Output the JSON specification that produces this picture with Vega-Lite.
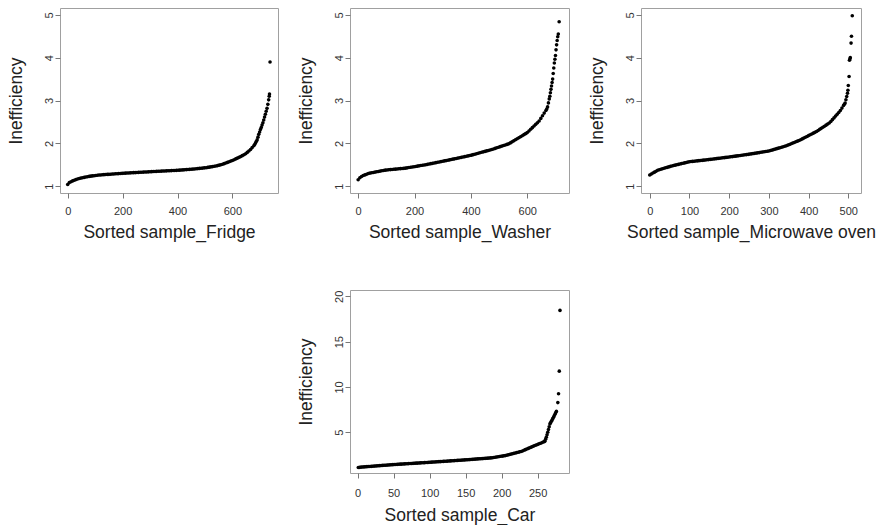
{
 "$schema": "https://vega.github.io/schema/vega-lite/v6.json",
 "background": "white",
 "padding": {"left": 6, "top": 7, "right": 0, "bottom": 0},
 "config": {
  "view": {"stroke": "#a0a0a0", "strokeWidth": 1},
  "font": "Liberation Sans",
  "axis": {"grid": false, "domain": false, "tickColor": "#777777", "tickSize": 5, "labelFont": "Liberation Sans", "labelFontSize": 11, "labelColor": "#333333", "labelOverlap": false, "labelFlush": false, "titleFont": "Liberation Sans", "titleFontSize": 17.5, "titleFontWeight": "normal", "titleColor": "#222222"},
  "axisX": {"labelPadding": 7.5, "titleBaseline": "alphabetic", "titleY": 44.5, "titleAlign": "center"},
  "axisY": {"labelAngle": -90, "labelAlign": "center", "labelBaseline": "alphabetic", "labelPadding": 2.5, "titleBaseline": "alphabetic", "titleX": -39, "titleAlign": "center"},
  "circle": {"size": 13, "color": "black", "opacity": 1}
 },
 "datasets": {
  "fr": [{"x":0,"y":1.04},{"x":6,"y":1.083},{"x":12,"y":1.103},{"x":18,"y":1.123},{"x":24,"y":1.139},{"x":30,"y":1.153},{"x":36,"y":1.166},{"x":42,"y":1.18},{"x":48,"y":1.188},{"x":54,"y":1.196},{"x":60,"y":1.204},{"x":66,"y":1.212},{"x":72,"y":1.219},{"x":78,"y":1.227},{"x":84,"y":1.233},{"x":90,"y":1.239},{"x":96,"y":1.244},{"x":102,"y":1.249},{"x":108,"y":1.254},{"x":114,"y":1.259},{"x":120,"y":1.262},{"x":126,"y":1.265},{"x":132,"y":1.268},{"x":138,"y":1.271},{"x":144,"y":1.274},{"x":150,"y":1.276},{"x":156,"y":1.279},{"x":162,"y":1.282},{"x":168,"y":1.285},{"x":174,"y":1.288},{"x":180,"y":1.291},{"x":186,"y":1.293},{"x":192,"y":1.296},{"x":198,"y":1.299},{"x":204,"y":1.301},{"x":210,"y":1.304},{"x":216,"y":1.306},{"x":222,"y":1.308},{"x":228,"y":1.31},{"x":234,"y":1.312},{"x":240,"y":1.315},{"x":246,"y":1.317},{"x":252,"y":1.319},{"x":258,"y":1.321},{"x":264,"y":1.323},{"x":270,"y":1.326},{"x":276,"y":1.328},{"x":282,"y":1.33},{"x":288,"y":1.332},{"x":294,"y":1.334},{"x":300,"y":1.337},{"x":306,"y":1.339},{"x":312,"y":1.341},{"x":318,"y":1.343},{"x":324,"y":1.345},{"x":330,"y":1.347},{"x":336,"y":1.349},{"x":342,"y":1.351},{"x":348,"y":1.353},{"x":354,"y":1.355},{"x":360,"y":1.357},{"x":366,"y":1.359},{"x":372,"y":1.361},{"x":378,"y":1.363},{"x":384,"y":1.365},{"x":390,"y":1.367},{"x":396,"y":1.369},{"x":402,"y":1.371},{"x":408,"y":1.374},{"x":414,"y":1.377},{"x":420,"y":1.38},{"x":426,"y":1.383},{"x":432,"y":1.386},{"x":438,"y":1.389},{"x":444,"y":1.392},{"x":450,"y":1.395},{"x":456,"y":1.398},{"x":462,"y":1.401},{"x":468,"y":1.406},{"x":474,"y":1.41},{"x":480,"y":1.414},{"x":486,"y":1.418},{"x":492,"y":1.422},{"x":498,"y":1.427},{"x":504,"y":1.431},{"x":510,"y":1.438},{"x":516,"y":1.444},{"x":522,"y":1.451},{"x":528,"y":1.457},{"x":534,"y":1.464},{"x":540,"y":1.47},{"x":546,"y":1.48},{"x":552,"y":1.49},{"x":558,"y":1.5},{"x":564,"y":1.51},{"x":570,"y":1.525},{"x":576,"y":1.54},{"x":582,"y":1.555},{"x":588,"y":1.57},{"x":594,"y":1.585},{"x":600,"y":1.6},{"x":606,"y":1.618},{"x":612,"y":1.636},{"x":618,"y":1.654},{"x":624,"y":1.672},{"x":630,"y":1.69},{"x":636,"y":1.712},{"x":642,"y":1.734},{"x":648,"y":1.756},{"x":654,"y":1.788},{"x":660,"y":1.82},{"x":666,"y":1.857},{"x":672,"y":1.9},{"x":678,"y":1.943},{"x":681,"y":1.974},{"x":684,"y":2.009},{"x":687,"y":2.044},{"x":690,"y":2.08},{"x":693,"y":2.144},{"x":696,"y":2.21},{"x":699,"y":2.265},{"x":702,"y":2.32},{"x":705,"y":2.37},{"x":708,"y":2.426},{"x":711,"y":2.481},{"x":714,"y":2.545},{"x":717,"y":2.613},{"x":720,"y":2.68},{"x":723,"y":2.749},{"x":726,"y":2.817},{"x":729,"y":2.91},{"x":732,"y":3.015},{"x":734,"y":3.1},{"x":735,"y":3.15},{"x":737,"y":3.9}],
  "wa": [{"x":0,"y":1.15},{"x":6,"y":1.195},{"x":12,"y":1.225},{"x":18,"y":1.248},{"x":24,"y":1.263},{"x":30,"y":1.279},{"x":36,"y":1.295},{"x":42,"y":1.305},{"x":48,"y":1.313},{"x":54,"y":1.32},{"x":60,"y":1.328},{"x":66,"y":1.336},{"x":72,"y":1.343},{"x":78,"y":1.351},{"x":84,"y":1.359},{"x":90,"y":1.366},{"x":96,"y":1.374},{"x":102,"y":1.378},{"x":108,"y":1.382},{"x":114,"y":1.386},{"x":120,"y":1.39},{"x":126,"y":1.393},{"x":132,"y":1.397},{"x":138,"y":1.401},{"x":144,"y":1.405},{"x":150,"y":1.409},{"x":156,"y":1.412},{"x":162,"y":1.416},{"x":168,"y":1.42},{"x":174,"y":1.427},{"x":180,"y":1.434},{"x":186,"y":1.44},{"x":192,"y":1.447},{"x":198,"y":1.454},{"x":204,"y":1.46},{"x":210,"y":1.467},{"x":216,"y":1.474},{"x":222,"y":1.481},{"x":228,"y":1.488},{"x":234,"y":1.494},{"x":240,"y":1.501},{"x":246,"y":1.509},{"x":252,"y":1.517},{"x":258,"y":1.525},{"x":264,"y":1.533},{"x":270,"y":1.541},{"x":276,"y":1.549},{"x":282,"y":1.557},{"x":288,"y":1.565},{"x":294,"y":1.573},{"x":300,"y":1.581},{"x":306,"y":1.589},{"x":312,"y":1.597},{"x":318,"y":1.605},{"x":324,"y":1.613},{"x":330,"y":1.621},{"x":336,"y":1.63},{"x":342,"y":1.638},{"x":348,"y":1.647},{"x":354,"y":1.655},{"x":360,"y":1.664},{"x":366,"y":1.672},{"x":372,"y":1.681},{"x":378,"y":1.689},{"x":384,"y":1.697},{"x":390,"y":1.706},{"x":396,"y":1.714},{"x":402,"y":1.724},{"x":408,"y":1.735},{"x":414,"y":1.746},{"x":420,"y":1.757},{"x":426,"y":1.768},{"x":432,"y":1.779},{"x":438,"y":1.79},{"x":444,"y":1.801},{"x":450,"y":1.812},{"x":456,"y":1.823},{"x":462,"y":1.834},{"x":468,"y":1.845},{"x":474,"y":1.856},{"x":480,"y":1.869},{"x":486,"y":1.882},{"x":492,"y":1.895},{"x":498,"y":1.909},{"x":504,"y":1.922},{"x":510,"y":1.935},{"x":516,"y":1.948},{"x":522,"y":1.961},{"x":528,"y":1.975},{"x":534,"y":1.988},{"x":540,"y":2.01},{"x":546,"y":2.034},{"x":552,"y":2.058},{"x":558,"y":2.082},{"x":564,"y":2.106},{"x":570,"y":2.13},{"x":576,"y":2.154},{"x":582,"y":2.178},{"x":588,"y":2.202},{"x":594,"y":2.226},{"x":600,"y":2.25},{"x":606,"y":2.289},{"x":612,"y":2.327},{"x":618,"y":2.366},{"x":624,"y":2.404},{"x":630,"y":2.443},{"x":636,"y":2.481},{"x":642,"y":2.52},{"x":648,"y":2.582},{"x":654,"y":2.644},{"x":660,"y":2.706},{"x":666,"y":2.768},{"x":669,"y":2.799},{"x":672,"y":2.851},{"x":675,"y":2.944},{"x":678,"y":3.037},{"x":680,"y":3.1},{"x":682,"y":3.18},{"x":684,"y":3.26},{"x":686,"y":3.34},{"x":688,"y":3.42},{"x":690,"y":3.5},{"x":692,"y":3.63},{"x":694,"y":3.76},{"x":696,"y":3.874},{"x":698,"y":3.962},{"x":700,"y":4.05},{"x":702,"y":4.183},{"x":704,"y":4.3},{"x":706,"y":4.4},{"x":708,"y":4.487},{"x":710,"y":4.55},{"x":713,"y":4.84}],
  "mi": [{"x":0,"y":1.26},{"x":4,"y":1.284},{"x":8,"y":1.306},{"x":12,"y":1.327},{"x":16,"y":1.348},{"x":20,"y":1.37},{"x":24,"y":1.383},{"x":28,"y":1.395},{"x":32,"y":1.406},{"x":36,"y":1.417},{"x":40,"y":1.428},{"x":44,"y":1.439},{"x":48,"y":1.45},{"x":52,"y":1.462},{"x":56,"y":1.472},{"x":60,"y":1.481},{"x":64,"y":1.49},{"x":68,"y":1.499},{"x":72,"y":1.508},{"x":76,"y":1.517},{"x":80,"y":1.526},{"x":84,"y":1.534},{"x":88,"y":1.543},{"x":92,"y":1.552},{"x":96,"y":1.561},{"x":100,"y":1.57},{"x":104,"y":1.574},{"x":108,"y":1.578},{"x":112,"y":1.582},{"x":116,"y":1.587},{"x":120,"y":1.591},{"x":124,"y":1.595},{"x":128,"y":1.599},{"x":132,"y":1.603},{"x":136,"y":1.607},{"x":140,"y":1.612},{"x":144,"y":1.616},{"x":148,"y":1.62},{"x":152,"y":1.625},{"x":156,"y":1.629},{"x":160,"y":1.634},{"x":164,"y":1.638},{"x":168,"y":1.643},{"x":172,"y":1.648},{"x":176,"y":1.652},{"x":180,"y":1.657},{"x":184,"y":1.662},{"x":188,"y":1.666},{"x":192,"y":1.671},{"x":196,"y":1.675},{"x":200,"y":1.68},{"x":204,"y":1.685},{"x":208,"y":1.69},{"x":212,"y":1.696},{"x":216,"y":1.701},{"x":220,"y":1.706},{"x":224,"y":1.711},{"x":228,"y":1.716},{"x":232,"y":1.722},{"x":236,"y":1.727},{"x":240,"y":1.732},{"x":244,"y":1.737},{"x":248,"y":1.742},{"x":252,"y":1.748},{"x":256,"y":1.754},{"x":260,"y":1.76},{"x":264,"y":1.766},{"x":268,"y":1.772},{"x":272,"y":1.778},{"x":276,"y":1.784},{"x":280,"y":1.79},{"x":284,"y":1.796},{"x":288,"y":1.802},{"x":292,"y":1.808},{"x":296,"y":1.814},{"x":300,"y":1.82},{"x":304,"y":1.831},{"x":308,"y":1.842},{"x":312,"y":1.853},{"x":316,"y":1.865},{"x":320,"y":1.876},{"x":324,"y":1.887},{"x":328,"y":1.898},{"x":332,"y":1.909},{"x":336,"y":1.92},{"x":340,"y":1.932},{"x":344,"y":1.944},{"x":348,"y":1.959},{"x":352,"y":1.974},{"x":356,"y":1.99},{"x":360,"y":2.005},{"x":364,"y":2.02},{"x":368,"y":2.036},{"x":372,"y":2.051},{"x":376,"y":2.066},{"x":380,"y":2.084},{"x":384,"y":2.103},{"x":388,"y":2.122},{"x":392,"y":2.141},{"x":396,"y":2.16},{"x":400,"y":2.18},{"x":404,"y":2.199},{"x":408,"y":2.218},{"x":412,"y":2.237},{"x":416,"y":2.256},{"x":420,"y":2.276},{"x":424,"y":2.301},{"x":428,"y":2.326},{"x":432,"y":2.35},{"x":436,"y":2.375},{"x":440,"y":2.4},{"x":444,"y":2.424},{"x":448,"y":2.449},{"x":452,"y":2.474},{"x":456,"y":2.511},{"x":460,"y":2.553},{"x":464,"y":2.594},{"x":468,"y":2.636},{"x":472,"y":2.677},{"x":476,"y":2.719},{"x":480,"y":2.765},{"x":484,"y":2.823},{"x":488,"y":2.882},{"x":490,"y":2.911},{"x":492,"y":2.94},{"x":494,"y":3.017},{"x":496,"y":3.093},{"x":498,"y":3.17},{"x":499,"y":3.24},{"x":500,"y":3.35},{"x":502,"y":3.56},{"x":503,"y":3.94},{"x":504,"y":3.97},{"x":505,"y":4.0},{"x":507,"y":4.34},{"x":508,"y":4.5},{"x":510,"y":4.98}],
  "ca": [{"x":1,"y":1.1},{"x":3,"y":1.125},{"x":5,"y":1.15},{"x":7,"y":1.162},{"x":9,"y":1.175},{"x":11,"y":1.187},{"x":13,"y":1.2},{"x":15,"y":1.212},{"x":17,"y":1.225},{"x":19,"y":1.237},{"x":21,"y":1.25},{"x":23,"y":1.262},{"x":25,"y":1.274},{"x":27,"y":1.287},{"x":29,"y":1.299},{"x":31,"y":1.312},{"x":33,"y":1.324},{"x":35,"y":1.337},{"x":37,"y":1.349},{"x":39,"y":1.362},{"x":41,"y":1.374},{"x":43,"y":1.386},{"x":45,"y":1.399},{"x":47,"y":1.411},{"x":49,"y":1.424},{"x":51,"y":1.435},{"x":53,"y":1.445},{"x":55,"y":1.455},{"x":57,"y":1.465},{"x":59,"y":1.475},{"x":61,"y":1.485},{"x":63,"y":1.495},{"x":65,"y":1.505},{"x":67,"y":1.515},{"x":69,"y":1.525},{"x":71,"y":1.535},{"x":73,"y":1.545},{"x":75,"y":1.555},{"x":77,"y":1.565},{"x":79,"y":1.575},{"x":81,"y":1.585},{"x":83,"y":1.595},{"x":85,"y":1.605},{"x":87,"y":1.615},{"x":89,"y":1.625},{"x":91,"y":1.635},{"x":93,"y":1.645},{"x":95,"y":1.655},{"x":97,"y":1.665},{"x":99,"y":1.675},{"x":101,"y":1.685},{"x":103,"y":1.696},{"x":105,"y":1.707},{"x":107,"y":1.718},{"x":109,"y":1.729},{"x":111,"y":1.739},{"x":113,"y":1.75},{"x":115,"y":1.761},{"x":117,"y":1.772},{"x":119,"y":1.783},{"x":121,"y":1.793},{"x":123,"y":1.804},{"x":125,"y":1.815},{"x":127,"y":1.826},{"x":129,"y":1.837},{"x":131,"y":1.847},{"x":133,"y":1.858},{"x":135,"y":1.869},{"x":137,"y":1.88},{"x":139,"y":1.891},{"x":141,"y":1.901},{"x":143,"y":1.912},{"x":145,"y":1.923},{"x":147,"y":1.934},{"x":149,"y":1.945},{"x":151,"y":1.956},{"x":153,"y":1.968},{"x":155,"y":1.981},{"x":157,"y":1.993},{"x":159,"y":2.005},{"x":161,"y":2.017},{"x":163,"y":2.029},{"x":165,"y":2.042},{"x":167,"y":2.054},{"x":169,"y":2.066},{"x":171,"y":2.078},{"x":173,"y":2.09},{"x":175,"y":2.102},{"x":177,"y":2.115},{"x":179,"y":2.127},{"x":181,"y":2.139},{"x":183,"y":2.152},{"x":185,"y":2.164},{"x":187,"y":2.183},{"x":189,"y":2.209},{"x":191,"y":2.235},{"x":193,"y":2.262},{"x":195,"y":2.288},{"x":197,"y":2.315},{"x":199,"y":2.341},{"x":201,"y":2.367},{"x":203,"y":2.394},{"x":205,"y":2.42},{"x":207,"y":2.462},{"x":209,"y":2.503},{"x":211,"y":2.545},{"x":213,"y":2.587},{"x":215,"y":2.629},{"x":217,"y":2.67},{"x":219,"y":2.712},{"x":221,"y":2.754},{"x":223,"y":2.796},{"x":225,"y":2.837},{"x":227,"y":2.879},{"x":229,"y":2.935},{"x":231,"y":3.005},{"x":233,"y":3.075},{"x":235,"y":3.145},{"x":237,"y":3.215},{"x":239,"y":3.285},{"x":241,"y":3.355},{"x":243,"y":3.425},{"x":245,"y":3.495},{"x":247,"y":3.562},{"x":249,"y":3.626},{"x":251,"y":3.69},{"x":253,"y":3.754},{"x":255,"y":3.818},{"x":257,"y":3.888},{"x":259,"y":3.963},{"x":260,"y":4.0},{"x":261,"y":4.22},{"x":262,"y":4.45},{"x":263,"y":4.72},{"x":264,"y":5.0},{"x":265,"y":5.3},{"x":266,"y":5.6},{"x":267,"y":5.92},{"x":268,"y":6.05},{"x":269,"y":6.2},{"x":270,"y":6.35},{"x":271,"y":6.5},{"x":272,"y":6.66},{"x":273,"y":6.82},{"x":274,"y":6.98},{"x":275,"y":7.14},{"x":276,"y":7.3},{"x":278,"y":8.27},{"x":279,"y":9.24},{"x":280,"y":11.74},{"x":281,"y":18.45}]
 },
 "columns": 3,
 "spacing": {"row": 97, "column": 72},
 "bounds": "flush",
 "concat": [
  {"width": 218, "height": 185, "data": {"name": "fr"}, "mark": "circle",
   "encoding": {
    "x": {"field": "x", "type": "quantitative", "scale": {"domain": [-28, 766], "nice": false, "zero": false}, "axis": {"values": [0, 200, 400, 600], "title": "Sorted sample_Fridge"}},
    "y": {"field": "y", "type": "quantitative", "scale": {"domain": [0.84, 5.16], "nice": false, "zero": false}, "axis": {"values": [1, 2, 3, 4, 5], "title": "Inefficiency"}}
   }},
  {"width": 219, "height": 185, "data": {"name": "wa"}, "mark": "circle",
   "encoding": {
    "x": {"field": "x", "type": "quantitative", "scale": {"domain": [-29, 748], "nice": false, "zero": false}, "axis": {"values": [0, 200, 400, 600], "title": "Sorted sample_Washer"}},
    "y": {"field": "y", "type": "quantitative", "scale": {"domain": [0.84, 5.16], "nice": false, "zero": false}, "axis": {"values": [1, 2, 3, 4, 5], "title": "Inefficiency"}}
   }},
  {"width": 220, "height": 185, "data": {"name": "mi"}, "mark": "circle",
   "encoding": {
    "x": {"field": "x", "type": "quantitative", "scale": {"domain": [-22, 532], "nice": false, "zero": false}, "axis": {"values": [0, 100, 200, 300, 400, 500], "title": "Sorted sample_Microwave oven"}},
    "y": {"field": "y", "type": "quantitative", "scale": {"domain": [0.84, 5.16], "nice": false, "zero": false}, "axis": {"values": [1, 2, 3, 4, 5], "title": "Inefficiency"}}
   }},
  {"width": 218, "height": 183, "data": {"values": [{"a": 1}]}, "mark": {"type": "circle", "opacity": 0}, "encoding": {}, "view": {"stroke": null}},
  {"width": 219, "height": 183, "data": {"name": "ca"}, "mark": "circle",
   "encoding": {
    "x": {"field": "x", "type": "quantitative", "scale": {"domain": [-10.5, 293.5], "nice": false, "zero": false}, "axis": {"values": [0, 50, 100, 150, 200, 250], "title": "Sorted sample_Car", "labelPadding": 9.5, "titleY": 47.5}},
    "y": {"field": "y", "type": "quantitative", "scale": {"domain": [0.5, 20.7], "nice": false, "zero": false}, "axis": {"values": [5, 10, 15, 20], "title": "Inefficiency"}}
   }}
 ]
}
